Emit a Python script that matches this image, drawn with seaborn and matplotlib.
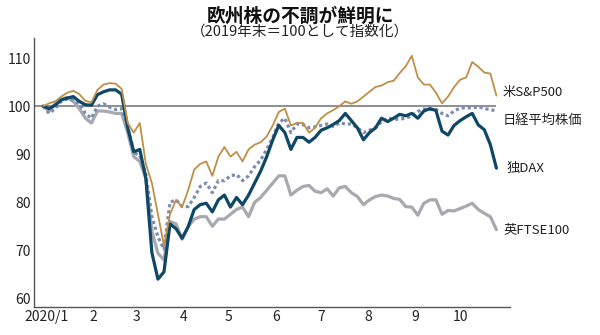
import numpy as np
import pandas as pd
import matplotlib
matplotlib.use('Agg')
import matplotlib.pyplot as plt
import seaborn as sns

# --- datos (2019年末=100), un punto cada 4 días ---
fechas = pd.date_range('2019-12-30', periods=76, freq='4D')

sp500 = [100.0, 100.6, 101.0, 102.0, 102.8, 103.2, 102.5, 101.1, 100.8, 103.4,
         104.5, 104.8, 104.7, 103.6, 96.5, 94.5, 96.5, 88.0, 84.0, 77.5,
         71.0, 77.5, 80.5, 79.0, 82.5, 86.8, 88.0, 88.5, 85.5, 89.5,
         91.5, 89.5, 90.5, 88.5, 91.0, 92.0, 92.5, 93.7, 96.0, 98.8,
         99.5, 96.0, 96.5, 96.5, 94.5, 95.5, 97.5, 98.5, 99.2, 100.0,
         101.0, 100.5, 101.0, 102.0, 103.0, 104.0, 104.3, 105.0, 105.3, 106.9,
         108.3, 110.5, 106.0, 104.5, 104.5, 102.8, 100.6, 102.0, 104.0, 105.5,
         106.0, 109.2, 108.2, 107.0, 106.8, 102.2]

dax = [100.0, 99.5, 100.2, 101.3, 101.7, 102.0, 101.0, 100.3, 100.2, 102.4,
       103.0, 103.4, 103.4, 102.5, 95.5, 90.5, 91.0, 85.0, 69.5, 64.0,
       65.5, 75.5, 74.5, 72.5, 74.9, 78.5, 79.5, 79.8, 78.0, 80.5,
       81.5, 79.0, 81.0, 79.5, 81.5, 84.0, 86.5, 89.5, 93.0, 96.0,
       94.5, 91.0, 93.5, 93.5, 92.5, 93.5, 95.0, 95.5, 96.2, 97.0,
       98.5, 97.0, 95.5, 93.0, 94.5, 95.5, 97.5, 96.8, 97.5, 98.3,
       98.0, 98.5, 97.5, 99.0, 99.5, 99.1, 94.8, 94.0, 96.0, 97.0,
       97.8, 98.5, 96.1, 95.1, 92.0, 87.1]

nikkei = [100.0, 98.5, 99.5, 101.0, 101.5, 101.3, 100.5, 98.5, 97.5, 100.0,
          100.5, 99.8, 99.3, 99.5, 96.0, 90.3, 89.8, 85.8, 77.0, 72.8,
          70.2, 80.0, 80.5, 79.1, 79.1, 81.0, 83.3, 84.0, 82.0, 84.5,
          84.5, 85.5, 85.8, 84.5, 85.5, 87.4, 88.8, 91.0, 93.5, 96.5,
          97.5, 94.5, 96.3, 96.2, 95.5, 95.7, 96.0, 96.3, 95.8, 96.5,
          96.3, 96.3, 95.5, 94.5, 95.0, 95.5, 96.8, 97.5, 97.3, 97.3,
          97.5, 98.0, 98.9, 99.4, 99.3, 99.3, 98.5, 98.0, 99.0, 99.6,
          99.7, 99.6, 99.9, 99.5, 99.3, 99.0]

ftse = [100.0, 99.0, 100.5, 101.5, 101.8, 101.0, 99.5, 97.5, 96.5, 99.0,
        99.0, 98.8, 98.5, 98.5, 94.5, 89.5, 88.5, 85.0, 74.0, 69.4,
        68.0, 76.0, 75.5, 72.3, 74.9, 76.5, 77.0, 77.0, 75.0, 76.5,
        76.5, 77.5, 78.5, 79.0, 77.0, 80.0, 81.0, 82.5, 84.0, 85.5,
        85.5, 81.5, 82.5, 83.3, 83.5, 82.3, 82.0, 82.8, 81.3, 83.0,
        83.3, 82.0, 81.2, 79.5, 80.5, 81.2, 81.5, 81.3, 80.8, 80.6,
        79.1, 79.0, 77.3, 79.8, 80.5, 80.5, 77.5, 78.3, 78.2, 78.7,
        79.2, 79.8, 78.5, 77.7, 77.0, 74.3]

etiquetas_mes = ['2020/1', '2', '3', '4', '5', '6', '7', '8', '9', '10']

df = pd.DataFrame({'fecha': fechas, 'sp': sp500, 'dax': dax, 'nk': nikkei, 'ftse': ftse})

# --- estilo ---
sns.set_style('white')
plt.rcParams['font.family'] = ['Noto Sans CJK JP', 'DejaVu Sans']

fig = plt.figure(figsize=(6, 3.35), dpi=100)
ax = fig.add_axes([0.0567, 0.0836, 0.7933, 0.803])

x_ini = pd.Timestamp('2019-12-24')
x_fin = pd.Timestamp('2020-11-03')

# línea de referencia 100
ax.hlines(100, x_ini, fechas[-1], color='#7c7c7c', lw=1.2, zorder=1)

sns.lineplot(data=df, x='fecha', y='ftse', ax=ax, color='#a8a8b0', lw=2.3, zorder=2)
sns.lineplot(data=df, x='fecha', y='nk', ax=ax, color='#7b8db0', lw=2.3,
             linestyle=(0, (1, 0.9)), zorder=3)
sns.lineplot(data=df, x='fecha', y='dax', ax=ax, color='#0f4766', lw=2.3, zorder=4)
sns.lineplot(data=df, x='fecha', y='sp', ax=ax, color='#c08e47', lw=1.3, zorder=5)

# etiquetas a la derecha
dia = pd.Timedelta(days=1)
ax.text(fechas[-1] + 4 * dia, 102.8, '米S&P500', va='center', ha='left', fontsize=9.5, color='#222222')
ax.text(fechas[-1] + 4 * dia, 97.1, '日経平均株価', va='center', ha='left', fontsize=9.5, color='#222222')
ax.text(fechas[-1] + 7 * dia, 87.1, '独DAX', va='center', ha='left', fontsize=9.5, color='#222222')
ax.text(fechas[-1] + 5 * dia, 74.2, '英FTSE100', va='center', ha='left', fontsize=9.5, color='#222222')

# ejes
ax.set_xlim(x_ini, x_fin)
ax.set_ylim(58.2, 114.2)
ax.set_yticks([60, 70, 80, 90, 100, 110])
ax.set_xticks(pd.date_range('2020-01-01', periods=10, freq='MS'))
ax.set_xticklabels(etiquetas_mes)
ax.set_xlabel('')
ax.set_ylabel('')
ax.tick_params(direction='in', length=3, width=1, colors='#555555',
               labelcolor='#222222', labelsize=10, pad=2)
sns.despine(ax=ax)
for lado in ['left', 'bottom']:
    ax.spines[lado].set_color('#555555')
    ax.spines[lado].set_linewidth(1)

# títulos
fig.text(0.5, 1 - 16 / 335, '欧州株の不調が鮮明に', ha='center', va='center',
         fontsize=13.5, fontweight='bold', color='#111111')
fig.text(0.5, 1 - 32 / 335, '（2019年末＝100として指数化）', ha='center', va='center',
         fontsize=10.5, color='#222222')

fig.savefig('out.png', dpi=100, facecolor='white')
